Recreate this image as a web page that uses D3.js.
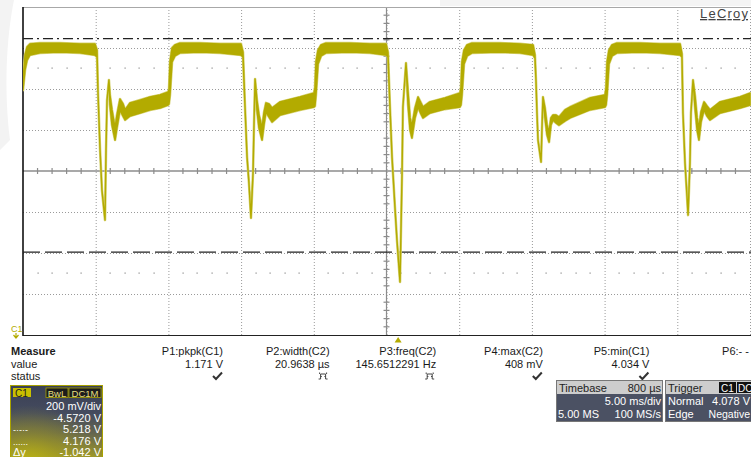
<!DOCTYPE html>
<html><head><meta charset="utf-8">
<script src="https://cdn.jsdelivr.net/npm/d3@7"></script>
<style>
html,body{margin:0;padding:0;background:#fff;overflow:hidden;}
svg{display:block;font-family:"Liberation Sans",Arial,sans-serif;}
</style></head><body>
<svg id="c" width="751" height="457"></svg>
<script>
// ---------- data ----------
const timeDomainMs = [0, 50];            // 10 div x 5 ms/div
const voltDomain = [3.772, 5.372];       // 8 div x 200 mV/div, offset -4.572 V
const gridTimesMs = [5, 10, 15, 20, 25, 30, 35, 40, 45, 50];
const gridVolts = [3.972, 4.172, 4.372, 4.772, 4.972, 5.172];
const centerTimeMs = 25;
const centerVolt = 4.572;
const minorTimesMs = d3.range(0, 51, 1);
const minorVolts = [3.812,3.852,3.892,3.932,4.012,4.052,4.092,4.132,4.212,4.252,4.292,4.332,4.412,4.452,4.492,4.532,4.612,4.652,4.692,4.732,4.812,4.852,4.892,4.932,5.012,5.052,5.092,5.132,5.212,5.252,5.292,5.332];
const dotRowVolts = [5.072, 4.072];
const cursorHighV = 5.218;
const cursorLowV = 4.176;
const triggerTimeMs = 25.8;

// trace samples: [time ms, upper envelope V, lower envelope V]
const traceSamples = [
 [0.00,5.016,4.967],[0.14,5.138,5.065],[0.28,5.177,5.113],[0.48,5.192,5.138],[1.17,5.196,5.148],
 [2.54,5.196,5.152],[3.92,5.192,5.148],[4.95,5.192,5.138],[5.09,5.162,5.128],[5.16,4.952,4.952],
 [5.30,4.674,4.674],[5.43,4.479,4.479],[5.64,4.333,4.333],[5.71,4.674,4.674],[5.78,4.918,4.918],
 [5.91,5.016,5.016],[5.98,4.943,4.894],[6.12,4.870,4.796],[6.33,4.782,4.723],[6.46,4.845,4.782],
 [6.67,4.923,4.870],[6.88,4.899,4.840],[7.02,4.870,4.821],[7.36,4.904,4.840],[8.05,4.918,4.855],
 [8.74,4.933,4.870],[9.42,4.943,4.879],[9.97,4.957,4.894],[10.04,4.967,4.899],[10.11,5.104,4.943],
 [10.25,5.172,5.104],[10.45,5.187,5.133],[10.80,5.196,5.148],[12.17,5.196,5.152],[13.55,5.192,5.148],
 [14.99,5.192,5.138],[15.13,5.152,5.128],[15.27,4.884,4.884],[15.41,4.640,4.640],[15.54,4.513,4.513],
 [15.68,4.343,4.343],[15.82,4.562,4.562],[15.89,4.806,4.806],[15.96,5.021,5.021],[16.09,4.918,4.870],
 [16.23,4.845,4.782],[16.44,4.782,4.723],[16.58,4.860,4.801],[16.71,4.904,4.860],[16.92,4.899,4.835],
 [17.13,4.879,4.811],[17.68,4.909,4.845],[19.05,4.933,4.870],[20.01,4.952,4.884],[20.08,4.977,4.889],
 [20.15,5.104,4.943],[20.29,5.162,5.094],[20.50,5.187,5.133],[20.84,5.196,5.148],[22.49,5.196,5.152],
 [23.86,5.192,5.148],[24.97,5.192,5.138],[25.10,5.152,5.128],[25.24,4.884,4.884],[25.38,4.640,4.640],
 [25.58,4.396,4.396],[25.72,4.235,4.235],[25.93,4.031,4.031],[26.07,4.562,4.562],[26.13,4.884,4.884],
 [26.34,5.099,5.099],[26.48,4.957,4.894],[26.62,4.831,4.772],[26.75,4.791,4.733],[26.96,4.879,4.831],
 [27.17,4.933,4.884],[27.37,4.904,4.850],[27.51,4.884,4.831],[27.99,4.909,4.855],[29.02,4.928,4.874],
 [30.05,4.952,4.884],[30.12,4.977,4.894],[30.19,5.104,4.943],[30.33,5.162,5.094],[30.54,5.187,5.133],
 [30.88,5.196,5.148],[32.81,5.196,5.152],[34.18,5.192,5.148],[35.08,5.187,5.138],[35.21,5.138,5.123],
 [35.28,5.016,5.016],[35.35,4.855,4.855],[35.42,4.723,4.723],[35.63,4.616,4.616],[35.69,4.772,4.772],
 [35.76,4.933,4.933],[35.90,4.879,4.831],[36.04,4.796,4.748],[36.18,4.762,4.713],[36.31,4.831,4.796],
 [36.45,4.845,4.821],[36.66,4.845,4.806],[36.86,4.835,4.796],[37.28,4.870,4.816],[37.62,4.884,4.831],
 [38.99,4.928,4.870],[40.03,4.943,4.884],[40.10,4.977,4.894],[40.17,5.104,4.943],[40.30,5.162,5.094],
 [40.51,5.187,5.133],[40.85,5.196,5.148],[42.43,5.196,5.152],[43.81,5.192,5.148],[45.19,5.192,5.138],
 [45.32,5.143,5.128],[45.39,4.855,4.855],[45.53,4.611,4.611],[45.67,4.445,4.445],[45.74,4.357,4.357],
 [45.87,4.611,4.611],[45.94,4.855,4.855],[46.08,5.016,5.016],[46.22,4.938,4.879],[46.36,4.831,4.772],
 [46.49,4.782,4.723],[46.63,4.860,4.811],[46.84,4.909,4.870],[47.04,4.889,4.840],[47.25,4.870,4.821],
 [47.94,4.909,4.855],[49.31,4.933,4.879],[50.00,4.952,4.894]
];

const measureNames = ["P1:pkpk(C1)","P2:width(C2)","P3:freq(C2)","P4:max(C2)","P5:min(C1)","P6:- -"];
const measureValues = ["1.171 V","20.9638 µs","145.6512291 Hz","408 mV","4.034 V",""];
const measureStatus = ["check","pulse","pulse","check","check",""];
const channelLines = ["200 mV/div","-4.5720 V","5.218 V","4.176 V","-1.042 V"];
const channelMarks = ["","","-·-·-","......","Δy"];
const timebaseRows = [["Timebase","800 µs"],["","5.00 ms/div"],["5.00 MS","100 MS/s"]];
const triggerRows = [["Trigger",""],["Normal","4.078 V"],["Edge","Negative"]];

// ---------- drawing ----------
const svg = d3.select("#c");
const L = 23, R = 750, T = 7, B = 335;
const x = d3.scaleLinear().domain(timeDomainMs).range([L, R]);
const y = d3.scaleLinear().domain(voltDomain).range([B, T]);
const olive = "#b3ab00";

const defs = svg.append("defs");
defs.append("clipPath").attr("id","plotclip").append("rect")
  .attr("x",L).attr("y",T).attr("width",751-L).attr("height",B-T);

// faint background shading
svg.append("path").attr("d","M0,0 L14,0 C6,40 4,90 10,140 L0,150 Z").attr("fill","#f3f3f3");
svg.append("rect").attr("x",440).attr("y",0).attr("width",311).attr("height",6).attr("fill","#f4f4f4");

// vertical dotted grid
const gV = svg.append("g").attr("transform",`translate(0,${B})`)
  .call(d3.axisBottom(x).tickValues(gridTimesMs).tickSize(-(B-T)).tickFormat(""));
gV.select(".domain").remove();
gV.selectAll("line").attr("stroke","#9a9a9a").attr("stroke-dasharray","1,2");

// horizontal dotted grid
const gH = svg.append("g").attr("transform",`translate(${L},0)`)
  .call(d3.axisLeft(y).tickValues(gridVolts).tickSize(-(R-L+1)).tickFormat(""));
gH.select(".domain").remove();
gH.selectAll("line").attr("stroke","#9a9a9a").attr("stroke-dasharray","1,2");

// dot rows
dotRowVolts.forEach(v => {
  svg.append("g").selectAll("rect").data(minorTimesMs.filter(t => t % 5 !== 0)).join("rect")
    .attr("x", d => Math.round(x(d)) - 0.5).attr("y", Math.round(y(v)) - 0.5)
    .attr("width",1.2).attr("height",1.2).attr("fill","#8a8a8a");
});

// center axes with ticks
svg.append("line").attr("x1",L).attr("x2",751).attr("y1",y(centerVolt)).attr("y2",y(centerVolt))
  .attr("stroke","#8c8c8c").attr("stroke-width",1.4);
svg.append("line").attr("x1",x(centerTimeMs)).attr("x2",x(centerTimeMs)).attr("y1",T).attr("y2",B)
  .attr("stroke","#8c8c8c").attr("stroke-width",1.2);
svg.append("g").selectAll("line").data(minorTimesMs.filter(t => t % 5 !== 0)).join("line")
  .attr("x1", d => x(d)).attr("x2", d => x(d))
  .attr("y1", y(centerVolt) - 3).attr("y2", y(centerVolt) + 3)
  .attr("stroke","#8c8c8c").attr("stroke-width",1.2);
svg.append("g").selectAll("line").data(minorVolts).join("line")
  .attr("x1", x(centerTimeMs) - 3).attr("x2", x(centerTimeMs) + 3)
  .attr("y1", d => y(d)).attr("y2", d => y(d))
  .attr("stroke","#8c8c8c").attr("stroke-width",1.2);

// frame
svg.append("line").attr("x1",L).attr("x2",751).attr("y1",T+0.5).attr("y2",T+0.5).attr("stroke","#a8a8a8");
svg.append("line").attr("x1",L).attr("x2",751).attr("y1",B+0.5).attr("y2",B+0.5).attr("stroke","#222");
svg.append("line").attr("x1",L).attr("x2",L).attr("y1",T).attr("y2",B+1).attr("stroke","#111").attr("stroke-width",1.6);

// cursors
svg.append("line").attr("x1",L).attr("x2",751).attr("y1",y(cursorHighV)).attr("y2",y(cursorHighV))
  .attr("stroke","#222").attr("stroke-width",1.3).attr("stroke-dasharray","10,4,2,4");
svg.append("line").attr("x1",L).attr("x2",751).attr("y1",y(cursorLowV)).attr("y2",y(cursorLowV))
  .attr("stroke","#222").attr("stroke-width",1.3).attr("stroke-dasharray","17,5");

// trace
const area = d3.area().x(d => x(d[0])).y0(d => y(d[2])).y1(d => y(d[1]));
const tg = svg.append("g").attr("clip-path","url(#plotclip)");
tg.append("path").datum(traceSamples).attr("d",area)
  .attr("fill","#d8d47a").attr("stroke","#d8d47a").attr("stroke-width",2.6).attr("stroke-linejoin","round");
tg.append("path").datum(traceSamples).attr("d",area)
  .attr("fill",olive).attr("stroke",olive).attr("stroke-width",1.4).attr("stroke-linejoin","round");

// LeCroy logo
svg.append("text").attr("x",748).attr("y",18).attr("text-anchor","end")
  .attr("font-size",13).attr("fill","#444").attr("textLength",48)
  .attr("text-decoration","underline").text("LeCroy");

// C1 marker
svg.append("text").attr("x",11).attr("y",332).attr("font-size",9).attr("fill",olive).text("C1");
svg.append("path").attr("d","M16,333 L16,337 M13.5,335 L16,338 L18.5,335").attr("stroke",olive)
  .attr("fill","none").attr("stroke-width",1.2);

// trigger marker
svg.append("path").attr("d",`M${x(triggerTimeMs)},337 l3.5,5.5 l-7,0 Z`).attr("fill",olive);

// measure table
const tbl = svg.append("g").attr("font-size",11).attr("fill","#1a1a1a");
tbl.append("text").attr("x",11).attr("y",355).attr("font-weight","bold").text("Measure");
tbl.append("text").attr("x",11).attr("y",367.5).text("value");
tbl.append("text").attr("x",11).attr("y",380).text("status");
const colRight = measureNames.map((d,i) => Math.min(223 + i * 106.6, 749));
tbl.selectAll("text.name").data(measureNames).join("text").attr("class","name")
  .attr("x",(d,i) => colRight[i]).attr("y",355).attr("text-anchor","end").text(d => d);
tbl.selectAll("text.val").data(measureValues).join("text").attr("class","val")
  .attr("x",(d,i) => colRight[i]).attr("y",367.5).attr("text-anchor","end").text(d => d);
measureStatus.forEach((s,i) => {
  const cx = colRight[i];
  if (s === "check") {
    tbl.append("path").attr("d",`M${cx-10},376 L${cx-7},379 L${cx-1},372.5`)
      .attr("fill","none").attr("stroke","#333").attr("stroke-width",2);
  } else if (s === "pulse") {
    tbl.append("path").attr("d",`M${cx-11},379 h2 v-5 h5 v5 h2 M${cx-10},374 v-1.5 M${cx-3},374 v-1.5 M${cx-9},376.5 h1.2 M${cx-4},376.5 h-1.2`)
      .attr("fill","none").attr("stroke","#444").attr("stroke-width",1);
  }
});

// channel C1 box
const lg = defs.append("linearGradient").attr("id","c1lin").attr("x1",0).attr("y1",0).attr("x2",0).attr("y2",1);
lg.append("stop").attr("offset","0").attr("stop-color","#394055");
lg.append("stop").attr("offset","0.35").attr("stop-color","#454b5e");
lg.append("stop").attr("offset","0.6").attr("stop-color","#65664e");
lg.append("stop").attr("offset","0.9").attr("stop-color","#9e9828");
const rg = defs.append("radialGradient").attr("id","c1grad").attr("cx","0.2").attr("cy","1.0").attr("r","0.75");
rg.append("stop").attr("offset","0").attr("stop-color","#c2ba10").attr("stop-opacity",0.9);
rg.append("stop").attr("offset","0.5").attr("stop-color","#aaa21a").attr("stop-opacity",0.45);
rg.append("stop").attr("offset","1").attr("stop-color","#aaa21a").attr("stop-opacity",0);
const cb = svg.append("g");
cb.append("rect").attr("x",10.5).attr("y",385.5).attr("width",92).attr("height",80)
  .attr("fill","url(#c1lin)");
cb.append("rect").attr("x",10.5).attr("y",385.5).attr("width",92).attr("height",80)
  .attr("fill","url(#c1grad)").attr("stroke","#a9a200").attr("stroke-width",1);
cb.append("rect").attr("x",13).attr("y",388).attr("width",18).attr("height",9).attr("fill","#c9c000");
cb.append("text").attr("x",15).attr("y",396.5).attr("font-size",10).attr("fill","#222").text("C1");
cb.append("rect").attr("x",46).attr("y",388).attr("width",22).attr("height",9.5).attr("fill","#1c1c1c").attr("stroke","#a9a200").attr("stroke-width",0.8);
cb.append("text").attr("x",57).attr("y",396.5).attr("text-anchor","middle").attr("font-size",9.5).attr("fill","#e6df80").text("BwL");
cb.append("rect").attr("x",69).attr("y",388).attr("width",32).attr("height",9.5).attr("fill","#1c1c1c").attr("stroke","#a9a200").attr("stroke-width",0.8);
cb.append("text").attr("x",85).attr("y",396.5).attr("text-anchor","middle").attr("font-size",9.5).attr("fill","#e6df80").text("DC1M");
const cy0 = [409.5, 421.5, 433, 444.5, 456];
cb.selectAll("text.cl").data(channelLines).join("text").attr("class","cl")
  .attr("x",101).attr("y",(d,i) => cy0[i]).attr("text-anchor","end").attr("font-size",11).attr("fill","#fff").text(d => d);
cb.selectAll("text.cm").data(channelMarks).join("text").attr("class","cm")
  .attr("x",13).attr("y",(d,i) => cy0[i]).attr("font-size",(d,i)=> i===4?11:9).attr("fill","#fff").text(d => d);

// timebase / trigger boxes
function infoBox(x0, w, clipId) {
  defs.append("clipPath").attr("id",clipId).append("rect").attr("x",x0).attr("y",379).attr("width",w).attr("height",44);
  const gg = svg.append("g").attr("clip-path",`url(#${clipId})`);
  gg.append("rect").attr("x",x0+0.5).attr("y",380.5).attr("width",w-1).attr("height",41).attr("fill","#4b5163").attr("stroke","#777");
  gg.append("rect").attr("x",x0+1).attr("y",381).attr("width",w-2).attr("height",13).attr("fill","#cdcdcd");
  return gg;
}
const tb = infoBox(556, 107, "tbclip");
tb.append("text").attr("x",559).attr("y",392).attr("font-size",11).attr("fill","#222").text(timebaseRows[0][0]);
tb.append("text").attr("x",661).attr("y",392).attr("text-anchor","end").attr("font-size",11).attr("fill","#222").text(timebaseRows[0][1]);
tb.append("text").attr("x",661).attr("y",405).attr("text-anchor","end").attr("font-size",11).attr("fill","#fff").text(timebaseRows[1][1]);
tb.append("text").attr("x",558).attr("y",417.5).attr("font-size",11).attr("fill","#fff").text(timebaseRows[2][0]);
tb.append("text").attr("x",661).attr("y",417.5).attr("text-anchor","end").attr("font-size",11).attr("fill","#fff").text(timebaseRows[2][1]);

const trg = infoBox(665, 100, "trclip");
trg.append("text").attr("x",668).attr("y",392).attr("font-size",11).attr("fill","#222").text(triggerRows[0][0]);
trg.append("rect").attr("x",719).attr("y",382).attr("width",17).attr("height",11).attr("fill","#111");
trg.append("text").attr("x",721).attr("y",391.5).attr("font-size",10).attr("fill","#fff").text("C1");
trg.append("rect").attr("x",737).attr("y",382).attr("width",20).attr("height",11).attr("fill","#111");
trg.append("text").attr("x",738).attr("y",391.5).attr("font-size",10).attr("fill","#fff").text("DC");
trg.append("text").attr("x",668).attr("y",405).attr("font-size",11).attr("fill","#fff").text(triggerRows[1][0]);
trg.append("text").attr("x",750).attr("y",405).attr("text-anchor","end").attr("font-size",11).attr("fill","#fff").text(triggerRows[1][1]);
trg.append("text").attr("x",668).attr("y",417.5).attr("font-size",11).attr("fill","#fff").text(triggerRows[2][0]);
trg.append("text").attr("x",750).attr("y",417.5).attr("text-anchor","end").attr("font-size",10.5).attr("fill","#fff").text(triggerRows[2][1]);
</script>
</body></html>
